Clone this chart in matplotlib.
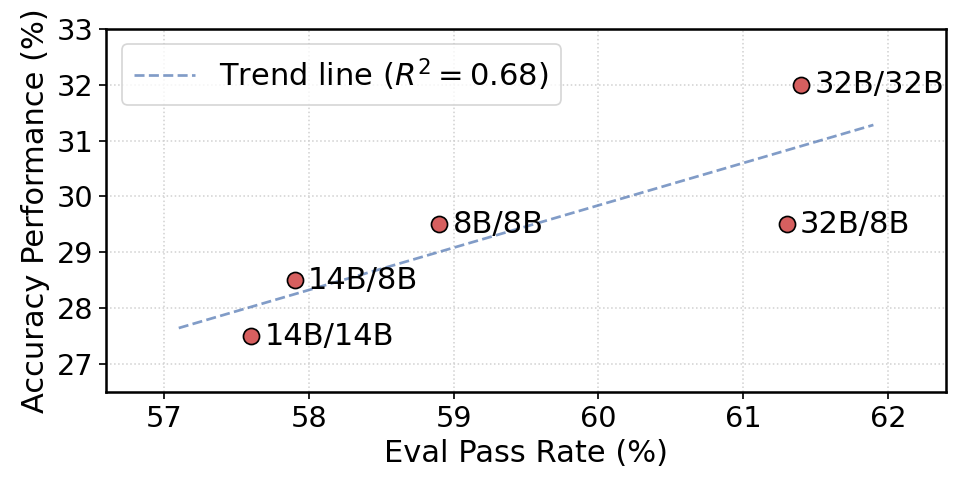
import numpy as np
import matplotlib
matplotlib.use("Agg")
import matplotlib.pyplot as plt

# eval pass rate vs accuracy for each model pair
labels = ['14B/14B', '14B/8B', '8B/8B', '32B/8B', '32B/32B']
pass_rate = np.array([57.6, 57.9, 58.9, 61.3, 61.4])
accuracy = np.array([27.5, 28.5, 29.5, 29.5, 32.0])

plt.rcParams['font.family'] = ['DejaVu Sans']

fig, ax = plt.subplots(figsize=(8, 4), dpi=122)
fig.subplots_adjust(left=0.109, right=0.969, top=0.941, bottom=0.197)

# linear fit
slope, intercept = np.polyfit(pass_rate, accuracy, 1)
pred = slope * pass_rate + intercept
r2 = 1 - np.sum((accuracy - pred) ** 2) / np.sum((accuracy - accuracy.mean()) ** 2)
xs = np.linspace(pass_rate.min() - 0.5, pass_rate.max() + 0.5, 50)
ax.plot(xs, slope * xs + intercept, '--', color='#4c72b0', alpha=0.7, lw=1.6,
        label=r'Trend line ($R^2 = %.2f$)' % r2, zorder=2)

ax.scatter(pass_rate, accuracy, s=90, c='#d65f5f', edgecolors='black',
           linewidths=1.0, zorder=3)
for x, y, t in zip(pass_rate, accuracy, labels):
    ax.annotate(t, (x, y), xytext=(8, 0), textcoords='offset points',
                va='center', ha='left', fontsize=18)

ax.set_xlim(56.6, 62.4)
ax.set_ylim(26.5, 33)
ax.set_xticks([57, 58, 59, 60, 61, 62])
ax.set_yticks([27, 28, 29, 30, 31, 32, 33])
ax.tick_params(labelsize=17, width=1.0, length=4)
ax.set_xlabel('Eval Pass Rate (%)', fontsize=18)
ax.set_ylabel('Accuracy Performance (%)', fontsize=18)
ax.grid(True, linestyle=':', color='#d0d0d0', linewidth=0.9)
for sp in ax.spines.values():
    sp.set_linewidth(1.5)
ax.legend(loc='upper left', fontsize=18, fancybox=True, framealpha=0.8)

plt.savefig('out.png', dpi=122)
